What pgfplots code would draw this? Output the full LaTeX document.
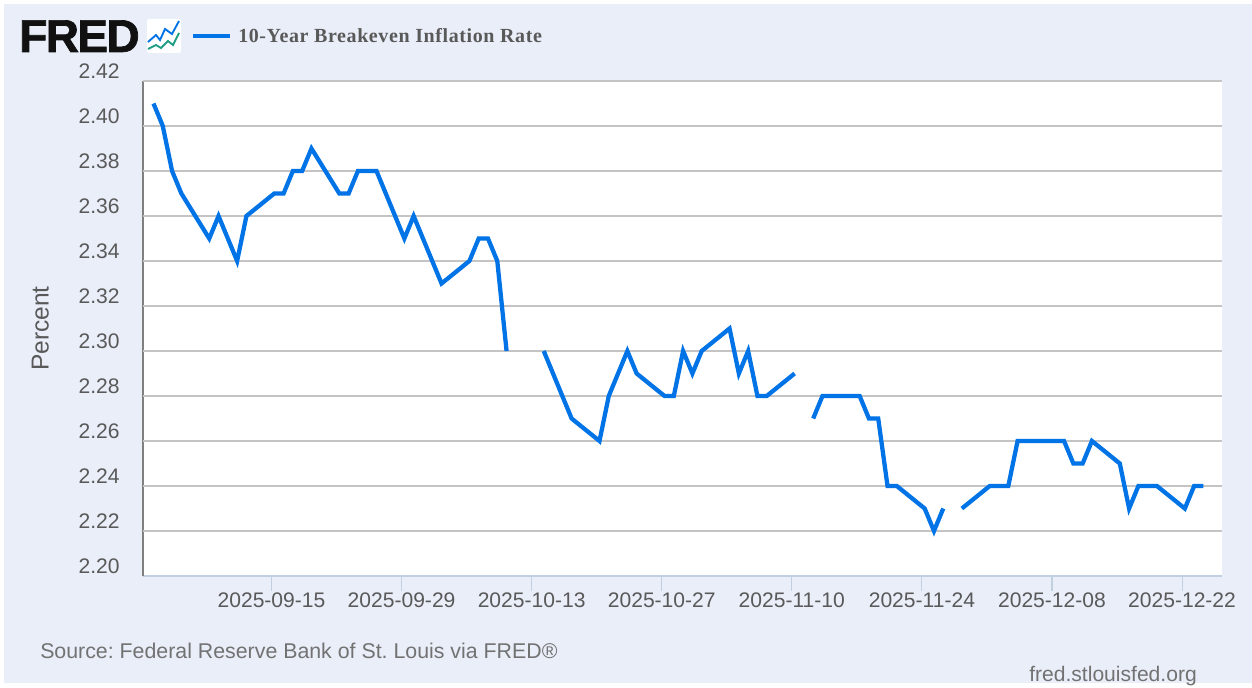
\documentclass[border=0pt]{standalone}
\usepackage{pgfplots}
\pgfplotsset{compat=1.18}
\usepackage{fontspec}
\setmainfont{Liberation Sans}
\newfontfamily\serifb[LetterSpace=3]{Liberation Serif}
\newfontfamily\logofont[LetterSpace=-3.5,FakeBold=1.5]{Liberation Sans}
\definecolor{bgblue}{HTML}{E9EEF9}
\definecolor{linec}{HTML}{0073E6}
\definecolor{gridc}{HTML}{C4C4C4}
\definecolor{txtc}{HTML}{595959}
\definecolor{tickc}{HTML}{C0D0E0}
\definecolor{logoc}{HTML}{111111}
\definecolor{icong}{HTML}{1E9E84}
\pgfplotstableread{
day value
-13 2.41
-12 2.40
-11 2.38
-10 2.37
-7 2.35
-6 2.36
-5 2.35
-4 2.34
-3 2.36
0 2.37
1 2.37
2 2.38
3 2.38
4 2.39
7 2.37
8 2.37
9 2.38
10 2.38
11 2.38
14 2.35
15 2.36
16 2.35
17 2.34
18 2.33
21 2.34
22 2.35
23 2.35
24 2.34
25 2.30
28 nan
29 2.30
30 2.29
31 2.28
32 2.27
35 2.26
36 2.28
37 2.29
38 2.30
39 2.29
42 2.28
43 2.28
44 2.30
45 2.29
46 2.30
49 2.31
50 2.29
51 2.30
52 2.28
53 2.28
56 2.29
57 nan
58 2.27
59 2.28
60 2.28
63 2.28
64 2.27
65 2.27
66 2.24
67 2.24
70 2.23
71 2.22
72 2.23
73 nan
74 2.23
77 2.24
78 2.24
79 2.24
80 2.26
81 2.26
84 2.26
85 2.26
86 2.25
87 2.25
88 2.26
91 2.25
92 2.23
93 2.24
94 2.24
95 2.24
98 2.23
99 2.24
100 2.24
}\datatable
\begin{document}
\frenchspacing
\begin{tikzpicture}[x=0.75pt,y=0.75pt]
\useasboundingbox (0,0) rectangle (1252,687);
\fill[white] (0,0) rectangle (1252,687);
\fill[bgblue] (4,4) rectangle (1252,683);
\fill[white] (143,111) rectangle (1222,606);
\begin{axis}[
  at={(107.25pt,83.25pt)}, anchor=south west,
  scale only axis, width=809.25pt, height=371.25pt,
  xmin=-14.13, xmax=102.0, ymin=2.20, ymax=2.42,
  axis x line*=bottom, axis y line*=left,
  x axis line style={-,color=tickc,line width=1.5pt},
  y axis line style={-,color=gray,line width=1pt},
  ytick={2.20,2.22,2.24,2.26,2.28,2.30,2.32,2.34,2.36,2.38,2.40,2.42},
  yticklabel style={/pgf/number format/fixed,/pgf/number format/fixed zerofill,/pgf/number format/precision=2,
     /pgf/number format/assume math mode=true,font=\fontsize{15.8pt}{17pt}\selectfont,text=txtc,yshift=7.5pt,xshift=-3pt},
  y tick style={opacity=0},
  xtick={-0.3,13.7,27.7,41.7,55.7,69.7,83.7,97.7},
  xticklabels={2025-09-15,2025-09-29,2025-10-13,2025-10-27,2025-11-10,2025-11-24,2025-12-08,2025-12-22},
  xticklabel style={font=\fontsize{15.8pt}{17pt}\selectfont,text=txtc},
  x tick style={color=tickc,line width=0.8pt},
  major tick length=11pt,
  tick align=outside,
  tick pos=left,
  xticklabel shift=-2pt,
  ylabel={Percent},
  ylabel style={font=\fontsize{18.4pt}{20pt}\selectfont,text=txtc,at={(axis description cs:0,0.5)},anchor=south,yshift=67pt},
  unbounded coords=jump,
  clip=false,
]
\pgfplotsinvokeforeach{2.22,2.24,2.26,2.28,2.30,2.32,2.34,2.36,2.38,2.40,2.42}{
  \draw[color=gridc,line width=1.8pt] (axis cs:-14.13,#1) -- (axis cs:102,#1);
}
\addplot[color=linec,line width=3.2pt,line join=miter,no markers] table[x=day,y=value] {\datatable};
\end{axis}
% logo
\node[anchor=base west,inner sep=0,text=logoc] at (19,635) {\fontsize{34.5pt}{36pt}\logofont\bfseries FRED};
\fill[white,rounded corners=1.5] (147,634) rectangle (181,668);
\draw[color=linec,line width=1.4pt] (148,645) -- (156,652) -- (160,647) -- (165,658) -- (172,653) -- (179,666);
\draw[color=icong,line width=1.4pt] (148,638) -- (156,642) -- (161,639) -- (168,646) -- (173,642) -- (179,654);
% legend
\draw[color=linec,line width=3.2pt] (193,651) -- (230,651);
\node[anchor=base west,inner sep=0,text=txtc] at (238,644) {\fontsize{15pt}{17pt}\serifb\bfseries 10-Year Breakeven Inflation Rate};
% footer
\node[anchor=base west,inner sep=0,text=txtc!85] at (40,29) {\fontsize{16pt}{17pt}\selectfont Source: Federal Reserve Bank of St. Louis via FRED\textregistered};
\node[anchor=base east,inner sep=0,text=txtc!85] at (1197,6) {\fontsize{15.8pt}{17pt}\selectfont fred.stlouisfed.org};
\end{tikzpicture}
\end{document}
